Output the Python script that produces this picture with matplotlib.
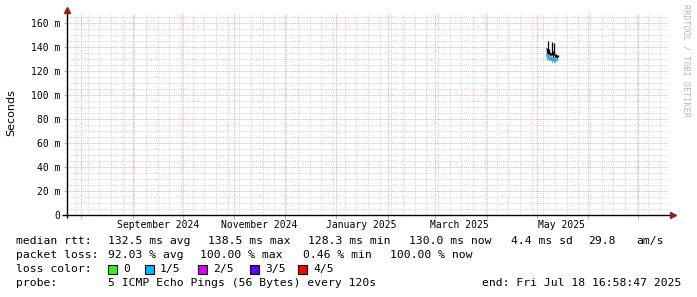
import matplotlib
matplotlib.use("Agg")
import matplotlib.pyplot as plt
import matplotlib.dates as mdates
from matplotlib.ticker import MultipleLocator, FuncFormatter
from matplotlib.patches import Rectangle
import numpy as np
import pandas as pd

# time window shown (smokeping "last 360 days")
end_time = pd.Timestamp("2025-07-18 16:58:47")
start_time = end_time - pd.Timedelta(days=360)

# one entry per consolidated sample (about 14 h each)
sample_starts = pd.to_datetime([
    "2025-05-06 17:00", "2025-05-07 07:00", "2025-05-07 22:00", "2025-05-08 12:00",
    "2025-05-09 02:00", "2025-05-09 17:00", "2025-05-10 07:00", "2025-05-10 22:00",
    "2025-05-11 12:00", "2025-05-12 02:00", "2025-05-12 17:00", "2025-05-13 07:00",
    "2025-05-13 21:00"])
median_ms = [138.5, 133, 131, 130, 131, 130, 129, 130, 128.3, 129, 130, 130]
ping_min_ms = [131, 128, 129, 128, 128, 128, 127, 128, 127, 127, 128, 128]
smoke_top_ms = [136, 134, 134, 133, 133, 133, 132, 133, 132, 132, 132, 132]
ping_max_ms = [139, 145, 138, 136, 135, 144, 137, 143, 134, 134, 133, 133]
loss_level = [1, 1, 1, 1, 1, 1, 1, 1, 1, 1, 1, 1]

month_labels = ["September 2024", "November 2024", "January 2025", "March 2025", "May 2025"]
month_label_times = pd.to_datetime(["2024-09-16", "2024-11-16", "2025-01-16",
                                    "2025-03-16", "2025-05-16"])

loss_names = ["0", "1/5", "2/5", "3/5", "4/5"]
loss_colors = ["#26ff00", "#00b8ff", "#dd00ff", "#5e00ff", "#ff0000"]

rtt_items = ["132.5 ms avg", "138.5 ms max", "128.3 ms min", "130.0 ms now",
             "4.4 ms sd", "29.8", "am/s"]
rtt_x = [108, 208, 308, 409, 511, 588, 636]
loss_items = ["92.03 % avg", "100.00 % max", "0.46 % min", "100.00 % now"]
loss_x = [108, 200, 303, 390]

W, H = 697, 297
fig = plt.figure(figsize=(W / 100, H / 100), dpi=100, facecolor="white")
ax = fig.add_axes([67 / W, 1 - 215 / H, 601 / W, 202 / H])
ax.set_facecolor("white")

mono = "DejaVu Sans Mono"

x0 = mdates.date2num(start_time)
x1 = mdates.date2num(end_time)
edges = mdates.date2num(sample_starts)

ax.set_xlim(x0, x1)
ax.set_ylim(0, 168.3)

# grid: weekly grey, monthly red; y every 5 grey, every 20 red
ax.xaxis.set_major_locator(mdates.MonthLocator(bymonthday=1))
ax.xaxis.set_minor_locator(mdates.WeekdayLocator(byweekday=mdates.MO))
ax.yaxis.set_major_locator(MultipleLocator(20))
ax.yaxis.set_minor_locator(MultipleLocator(5))
ax.grid(True, which="minor", color="#d4d4d4", linestyle=(0, (1, 1)), linewidth=0.7)
ax.grid(True, which="major", color="#f2a8a8", linestyle=(0, (1, 1)), linewidth=0.7)
ax.set_axisbelow(True)

ax.xaxis.set_major_formatter(FuncFormatter(lambda v, p: ""))
ax.tick_params(axis="x", which="major", length=3, color="#f0a0a0", width=0.8)
ax.tick_params(axis="x", which="minor", length=0)
ax.tick_params(axis="y", which="minor", length=0)
ax.tick_params(axis="y", which="major", length=2, color="#f0a0a0", width=0.8, pad=3,
               labelsize=7, labelfontfamily=mono)
ax.yaxis.set_major_formatter(FuncFormatter(lambda v, p: "0" if v == 0 else "%d m" % v))

for lab, t in zip(month_labels, month_label_times):
    ax.text(mdates.date2num(t), -8.3, lab, ha="center", va="center",
            fontsize=7, family=mono, clip_on=False)

for s in ["top", "right", "left", "bottom"]:
    ax.spines[s].set_visible(False)
ax.plot([-0.008, 1.006], [0, 0], transform=ax.transAxes, color="black", lw=1,
        clip_on=False, solid_capstyle="butt")
ax.plot([0, 0], [-0.015, 1.01], transform=ax.transAxes, color="black", lw=1,
        clip_on=False, solid_capstyle="butt")
ax.plot([1.008], [0], marker=">", markersize=4, color="#a01818", transform=ax.transAxes,
        clip_on=False)
ax.plot([0], [1.013], marker="^", markersize=4, color="#a01818", transform=ax.transAxes,
        clip_on=False)

# smoke, spikes and median
ax.stairs(smoke_top_ms, edges, baseline=ping_min_ms, fill=True, color="#a8a8a8", lw=0)
mids = (edges[:-1] + edges[1:]) / 2
ax.vlines(mids, smoke_top_ms, ping_max_ms, color="black", lw=0.9)
for i in range(len(median_ms)):
    ax.stairs([median_ms[i]], edges[i:i + 2], baseline=None,
              color=loss_colors[loss_level[i]], lw=1.3)
ax.stairs(median_ms, edges, baseline=None, color=loss_colors[1], lw=1.0)

fig.text(11 / W, 1 - 113 / H, "Seconds", rotation=90, ha="center", va="center",
         fontsize=8, family="DejaVu Sans")
fig.text(686 / W, 1 - 4 / H, "RRDTOOL / TOBI OETIKER", rotation=270, ha="center",
         va="top", fontsize=6.1, family=mono, color="#b8b8b8")

fs = 8.2
def ftext(x, y, s, **kw):
    fig.text(x / W, 1 - y / H, s, fontsize=fs, family=mono, va="center", **kw)

ftext(16, 241, "median rtt:")
for s, x in zip(rtt_items, rtt_x):
    ftext(x, 241, s)
ftext(16, 255, "packet loss:")
for s, x in zip(loss_items, loss_x):
    ftext(x, 255, s)
ftext(16, 269, "loss color:")
box_x = [108, 145, 198, 250, 298]
for name, col, bx in zip(loss_names, loss_colors, box_x):
    fig.patches.append(Rectangle((bx / W, 1 - 274 / H), 9 / W, 9 / H,
                                 transform=fig.transFigure, facecolor=col,
                                 edgecolor="black", lw=0.8))
    ftext(bx + 15, 269, name)
ftext(16, 283, "probe:")
ftext(108, 283, "5 ICMP Echo Pings (56 Bytes) every 120s")
ftext(681, 283, "end: Fri Jul 18 16:58:47 2025", ha="right")

fig.savefig("out.png", dpi=100, facecolor="white")
